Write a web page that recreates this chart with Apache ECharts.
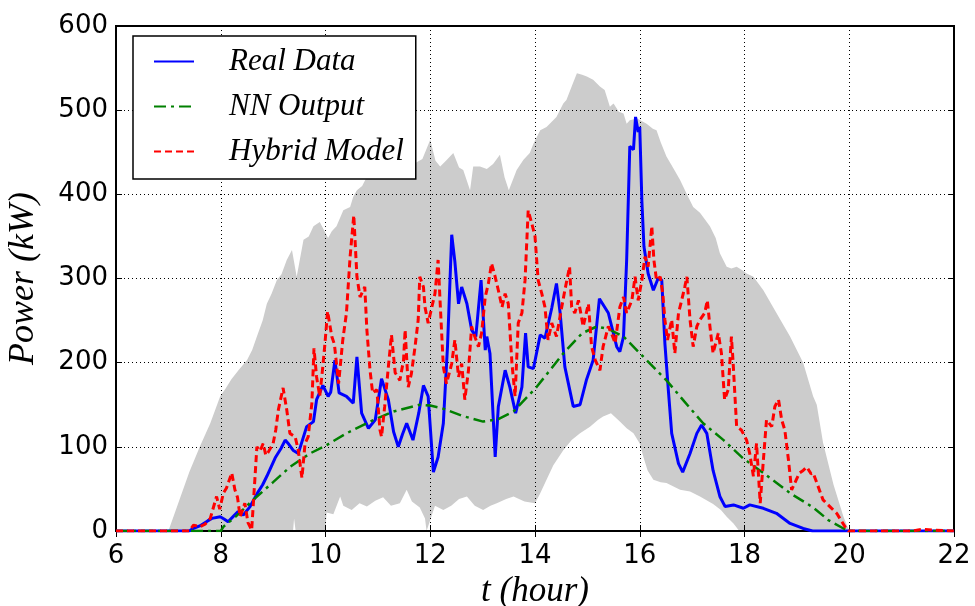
<!DOCTYPE html>
<html>
<head>
<meta charset="utf-8">
<title>Power (kW)</title>
<script src="https://cdn.jsdelivr.net/npm/echarts@6/dist/echarts.min.js"></script>
<style>
  html, body { margin: 0; padding: 0; background: #fff; }
  #chart { width: 975px; height: 606px; }
</style>
</head>
<body>
<div id="chart"></div>
<script>
// upper edge of the grey band
const bandTopHour = [6, 7.0, 7.2, 7.4, 7.6, 7.8, 7.99, 8.1, 8.2, 8.35, 8.5, 8.6, 8.69, 8.8, 8.88, 8.97, 9.07, 9.16, 9.26, 9.36, 9.45, 9.58, 9.68, 9.77, 9.89, 10.05, 10.12, 10.21, 10.34, 10.47, 10.53, 10.6, 10.7, 10.79, 10.9, 11.04, 11.15, 11.25, 11.42, 11.5, 11.6, 11.74, 11.85, 12.0, 12.1, 12.19, 12.3, 12.44, 12.55, 12.63, 12.76, 12.82, 12.95, 13.08, 13.2, 13.33, 13.42, 13.5, 13.65, 13.78, 13.9, 13.97, 14.1, 14.22, 14.41, 14.54, 14.6, 14.7, 14.8, 14.9, 14.99, 15.11, 15.24, 15.33, 15.43, 15.5, 15.6, 15.69, 15.75, 15.81, 15.95, 16.13, 16.25, 16.32, 16.4, 16.51, 16.65, 16.77, 16.9, 17.02, 17.15, 17.34, 17.45, 17.53, 17.66, 17.75, 17.85, 17.95, 18.04, 18.17, 18.36, 18.61, 18.87, 19.12, 19.31, 19.38, 19.5, 19.7, 19.89, 20.0, 22];
const bandTopKw = [0, 0, 35, 70, 100, 128, 160, 170, 180, 192, 203, 215, 231, 250, 270, 282, 298, 305, 322, 334, 302, 346, 350, 362, 367, 348, 356, 362, 381, 385, 397, 405, 410, 421, 418, 425, 438, 426, 430, 442, 430, 438, 442, 465, 440, 433, 440, 449, 432, 429, 405, 433, 433, 430, 436, 447, 420, 405, 429, 441, 449, 460, 476, 480, 492, 508, 512, 528, 544, 542, 540, 536, 528, 524, 504, 508, 498, 496, 484, 488, 490, 484, 478, 476, 462, 445, 430, 417, 400, 385, 378, 362, 348, 330, 314, 312, 314, 310, 306, 302, 286, 259, 231, 200, 160, 150, 105, 55, 17, 0, 0];

// lower edge of the grey band
const bandLowHour = [6, 9.38, 9.4, 9.43, 10.0, 10.02, 10.15, 10.28, 10.34, 10.5, 10.65, 10.79, 10.95, 11.1, 11.25, 11.42, 11.55, 11.65, 11.8, 11.9, 11.93, 12.09, 12.25, 12.4, 12.55, 12.7, 12.85, 13.01, 13.15, 13.27, 13.45, 13.59, 13.8, 14.0, 14.1, 14.22, 14.35, 14.54, 14.7, 14.86, 15.05, 15.2, 15.3, 15.45, 15.62, 15.75, 15.88, 16.0, 16.07, 16.15, 16.26, 16.4, 16.51, 16.77, 16.96, 17.15, 17.4, 17.55, 17.66, 17.79, 17.9, 22];
const bandLowKw = [0, 0, 15, 0, 0, 22, 20, 41, 30, 25, 33, 29, 36, 40, 30, 33, 49, 35, 28, 15, 0, 30, 25, 30, 38, 41, 30, 25, 30, 33, 38, 41, 35, 33, 45, 61, 78, 96, 108, 116, 124, 132, 136, 140, 130, 122, 116, 104, 88, 72, 61, 58, 57, 49, 47, 41, 32, 25, 17, 9, 0, 0];

const realHour = [6, 7.4, 7.47, 7.6, 7.75, 7.83, 7.99, 8.07, 8.14, 8.25, 8.33, 8.43, 8.56, 8.7, 8.8, 8.88, 9.04, 9.15, 9.23, 9.3, 9.38, 9.48, 9.56, 9.64, 9.77, 9.83, 9.95, 10.05, 10.1, 10.18, 10.26, 10.4, 10.53, 10.6, 10.69, 10.82, 10.95, 11.07, 11.2, 11.3, 11.39, 11.47, 11.55, 11.67, 11.78, 11.87, 11.96, 12.06, 12.15, 12.25, 12.33, 12.41, 12.47, 12.54, 12.6, 12.7, 12.79, 12.87, 12.97, 13.05, 13.08, 13.14, 13.24, 13.3, 13.43, 13.52, 13.63, 13.75, 13.82, 13.87, 13.97, 14.1, 14.19, 14.32, 14.41, 14.48, 14.57, 14.73, 14.86, 14.98, 15.11, 15.23, 15.4, 15.56, 15.62, 15.69, 15.75, 15.81, 15.88, 15.92, 15.97, 16.0, 16.04, 16.08, 16.16, 16.26, 16.35, 16.42, 16.48, 16.55, 16.61, 16.74, 16.82, 16.96, 17.09, 17.18, 17.28, 17.4, 17.53, 17.63, 17.79, 17.98, 18.1, 18.36, 18.61, 18.87, 19.12, 19.3, 22];
const realKw = [0, 0, 3, 6, 12, 15, 17, 14, 11, 18, 23, 19, 29, 45, 55, 65, 87, 98, 108, 103, 96, 92, 108, 124, 130, 156, 173, 160, 165, 203, 164, 160, 152, 207, 140, 122, 132, 181, 156, 118, 100, 115, 128, 108, 140, 173, 160, 70, 88, 128, 220, 352, 320, 270, 290, 270, 239, 231, 298, 215, 231, 211, 88, 148, 191, 171, 140, 171, 235, 195, 193, 233, 229, 265, 294, 259, 195, 148, 150, 179, 203, 276, 259, 219, 213, 231, 322, 457, 453, 492, 474, 480, 393, 338, 306, 286, 300, 298, 223, 164, 116, 80, 70, 92, 116, 126, 116, 72, 41, 29, 31, 27, 31, 27, 21, 9, 3, 0, 0];

const nnHour = [6, 8.0, 8.05, 8.3, 8.62, 9.0, 9.32, 9.7, 10.02, 10.4, 10.85, 11.3, 11.8, 12.0, 12.22, 12.6, 13.01, 13.3, 13.59, 14.03, 14.54, 14.9, 15.18, 15.4, 15.69, 16.1, 16.51, 16.85, 17.21, 17.6, 17.98, 18.4, 18.87, 19.31, 19.6, 19.89, 20.0, 22];
const nnKw = [0, 0, 5, 18, 37, 58, 76, 92, 102, 116, 130, 142, 150, 149, 146, 137, 130, 133, 142, 171, 211, 235, 243, 240, 231, 205, 179, 154, 128, 108, 86, 67, 45, 28, 13, 3, 0, 0];

const hybridHour = [6, 7.4, 7.48, 7.6, 7.7, 7.8, 7.92, 7.98, 8.05, 8.11, 8.21, 8.27, 8.32, 8.37, 8.46, 8.52, 8.59, 8.64, 8.69, 8.75, 8.81, 8.86, 8.91, 9.0, 9.05, 9.1, 9.19, 9.26, 9.32, 9.42, 9.48, 9.55, 9.61, 9.67, 9.74, 9.78, 9.83, 9.89, 9.94, 9.99, 10.04, 10.12, 10.17, 10.25, 10.33, 10.4, 10.47, 10.54, 10.6, 10.66, 10.75, 10.79, 10.85, 10.9, 10.98, 11.04, 11.07, 11.13, 11.2, 11.26, 11.33, 11.42, 11.49, 11.52, 11.58, 11.64, 11.71, 11.77, 11.8, 11.87, 11.9, 11.96, 12.03, 12.09, 12.15, 12.19, 12.25, 12.31, 12.41, 12.47, 12.54, 12.6, 12.66, 12.73, 12.79, 12.85, 12.92, 12.98, 13.05, 13.11, 13.17, 13.24, 13.3, 13.37, 13.43, 13.49, 13.56, 13.62, 13.68, 13.75, 13.81, 13.87, 13.94, 14.0, 14.06, 14.13, 14.19, 14.25, 14.32, 14.41, 14.51, 14.57, 14.66, 14.7, 14.76, 14.83, 14.92, 15.02, 15.08, 15.15, 15.24, 15.3, 15.4, 15.46, 15.53, 15.62, 15.69, 15.75, 15.85, 15.91, 15.97, 16.04, 16.1, 16.16, 16.23, 16.27, 16.32, 16.39, 16.44, 16.48, 16.53, 16.61, 16.67, 16.74, 16.8, 16.86, 16.9, 16.96, 17.02, 17.09, 17.15, 17.24, 17.29, 17.34, 17.4, 17.5, 17.56, 17.62, 17.69, 17.75, 17.78, 17.85, 17.94, 18.04, 18.1, 18.17, 18.23, 18.3, 18.36, 18.42, 18.52, 18.58, 18.65, 18.71, 18.77, 18.84, 18.9, 18.99, 19.05, 19.12, 19.19, 19.27, 19.31, 19.37, 19.5, 19.63, 19.76, 19.92, 19.98, 21.2, 21.4, 21.6, 22];
const hybridKw = [0, 0, 7, 5, 8, 15, 41, 26, 45, 51, 69, 49, 40, 17, 33, 10, 1, 50, 100, 95, 104, 90, 94, 104, 120, 144, 170, 144, 116, 112, 96, 63, 104, 112, 152, 217, 183, 160, 190, 223, 261, 231, 222, 175, 227, 259, 326, 375, 302, 278, 290, 239, 191, 164, 168, 120, 112, 148, 195, 233, 188, 179, 203, 239, 171, 187, 219, 251, 302, 290, 266, 247, 266, 282, 322, 270, 195, 175, 199, 227, 183, 199, 156, 191, 243, 231, 219, 235, 278, 294, 318, 302, 286, 266, 282, 270, 199, 160, 247, 259, 298, 381, 365, 350, 298, 282, 266, 227, 247, 231, 266, 286, 314, 266, 259, 274, 243, 270, 219, 203, 191, 219, 243, 235, 223, 266, 278, 259, 274, 302, 274, 298, 326, 314, 362, 322, 298, 302, 282, 251, 227, 251, 211, 259, 274, 290, 302, 251, 219, 243, 251, 259, 274, 243, 211, 235, 211, 156, 168, 231, 203, 124, 120, 108, 92, 65, 104, 33, 84, 132, 124, 148, 156, 132, 120, 84, 49, 61, 69, 72, 76, 68, 69, 59, 37, 29, 21, 5, 0, 0, 2, 1, 0];

const xTicks = [6, 8, 10, 12, 14, 16, 18, 20, 22];
const yTicks = [0, 100, 200, 300, 400, 500, 600];

function pairs(hours, kw) {
  return hours.map((h, i) => [h, kw[i]]);
}

const chart = echarts.init(document.getElementById('chart'), null, { renderer: 'canvas' });

const serifItalic = {
  fontFamily: '"Liberation Serif", "DejaVu Serif", serif',
  fontStyle: 'italic',
  color: '#000'
};

const gridDots = { show: true, lineStyle: { color: '#000', width: 1, type: [1, 3] } };
const tickStyle = { show: true, inside: true, length: 6, lineStyle: { color: '#000', width: 1 } };
const tickFont = { fontSize: 26, fontFamily: '"DejaVu Sans", sans-serif', color: '#000' };

const option = {
  backgroundColor: '#fff',
  animation: false,
  grid: {
    left: 116, right: 21, top: 26, bottom: 75,
    outerBoundsMode: 'none',
    show: true, borderColor: '#000', borderWidth: 2, backgroundColor: 'transparent', z: 6
  },
  legend: {
    orient: 'vertical',
    left: 133, top: 36,
    data: ['Real Data', 'NN Output', 'Hybrid Model'],
    itemWidth: 40, itemHeight: 14, itemGap: 14,
    padding: [10, 12, 12, 20],
    backgroundColor: '#fff',
    borderColor: '#000', borderWidth: 1.5, borderRadius: 0,
    itemStyle: { opacity: 0 },
    textStyle: Object.assign({ fontSize: 31, lineHeight: 28, padding: [0, 0, 0, 30] }, serifItalic),
    z: 10
  },
  xAxis: [{
    type: 'value', min: xTicks[0], max: xTicks[xTicks.length - 1], interval: 2,
    position: 'bottom', z: 5,
    axisLine: { show: false },
    axisTick: tickStyle,
    axisLabel: Object.assign({ margin: 12 }, tickFont),
    splitLine: gridDots,
    name: 't (hour)', nameLocation: 'middle', nameGap: 38,
    nameTextStyle: Object.assign({ fontSize: 35 }, serifItalic)
  }, {
    type: 'value', min: xTicks[0], max: xTicks[xTicks.length - 1], interval: 2,
    position: 'top', z: 5,
    axisLine: { show: false },
    axisTick: tickStyle,
    axisLabel: { show: false },
    splitLine: { show: false }
  }],
  yAxis: [{
    type: 'value', min: yTicks[0], max: yTicks[yTicks.length - 1], interval: 100,
    position: 'left', z: 5,
    axisLine: { show: false },
    axisTick: tickStyle,
    axisLabel: Object.assign({ margin: 8 }, tickFont),
    splitLine: gridDots,
    name: 'Power (kW)', nameLocation: 'middle', nameGap: 74, nameRotate: 90,
    nameTextStyle: Object.assign({ fontSize: 36 }, serifItalic)
  }, {
    type: 'value', min: yTicks[0], max: yTicks[yTicks.length - 1], interval: 100,
    position: 'right', z: 5,
    axisLine: { show: false },
    axisTick: tickStyle,
    axisLabel: { show: false },
    splitLine: { show: false }
  }],
  series: [
    {
      name: 'band', type: 'line', data: pairs(bandTopHour, bandTopKw),
      symbol: 'none', silent: true, z: 1,
      lineStyle: { width: 0 }, areaStyle: { color: '#cccccc', opacity: 1 }
    },
    {
      name: 'bandLow', type: 'line', data: pairs(bandLowHour, bandLowKw),
      symbol: 'none', silent: true, z: 1,
      lineStyle: { width: 0 }, areaStyle: { color: '#ffffff', opacity: 1 }
    },
    {
      name: 'Real Data', type: 'line', data: pairs(realHour, realKw),
      symbol: 'none', z: 7,
      lineStyle: { color: '#0000ff', width: 3 }, itemStyle: { color: '#0000ff' }
    },
    {
      name: 'NN Output', type: 'line', data: pairs(nnHour, nnKw),
      symbol: 'none', z: 8,
      lineStyle: { color: '#008000', width: 2.5, type: [12, 5, 3, 5] }, itemStyle: { color: '#008000' }
    },
    {
      name: 'Hybrid Model', type: 'line', data: pairs(hybridHour, hybridKw),
      symbol: 'none', z: 9,
      lineStyle: { color: '#ff0000', width: 3, type: [7, 4] }, itemStyle: { color: '#ff0000' }
    }
  ]
};

chart.setOption(option);
</script>
</body>
</html>
